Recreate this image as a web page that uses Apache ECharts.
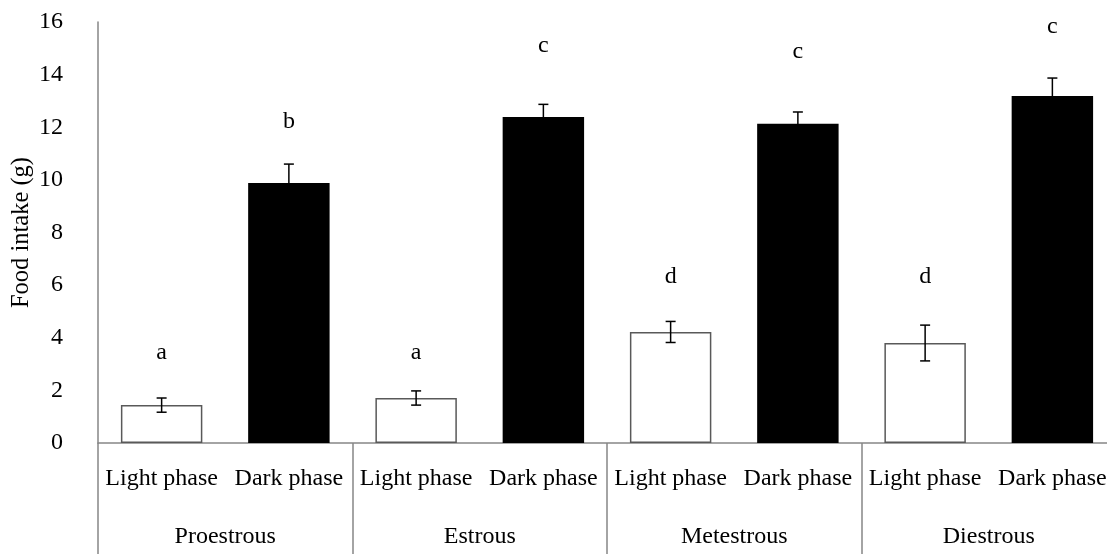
<!DOCTYPE html>
<html><head><meta charset="utf-8">
<script src="https://cdn.jsdelivr.net/npm/echarts@6/dist/echarts.min.js"></script>
<style>html,body{margin:0;padding:0;background:#fff}#c{width:1107px;height:554px}</style>
</head><body><div id="c"></div>
<script>
var categories = ['Light phase','Dark phase','Light phase','Dark phase','Light phase','Dark phase','Light phase','Dark phase'];
var groups = ['Proestrous','Estrous','Metestrous','Diestrous'];
var values = [1.44, 9.88, 1.71, 12.39, 4.22, 12.13, 3.80, 13.19];
var errors = [0.27, 0.72, 0.27, 0.48, 0.40, 0.45, 0.68, 0.68];
var letters = ['a','b','a','c','d','c','d','c'];
var letterHeights = [3.42, 12.2, 3.42, 15.1, 6.31, 14.87, 6.31, 15.82];
var yTicks = [0,2,4,6,8,10,12,14,16];

var FONT = 'Liberation Serif';
var chart = echarts.init(document.getElementById('c'));
var barData = values.map(function(v,i){
  var dark = i % 2 === 1;
  return {value: v, itemStyle: {color: dark ? '#000' : '#fff', borderColor: dark ? '#000' : '#595959', borderWidth: dark ? 0 : 1.5}};
});
chart.setOption({
  animation: false,
  grid: {left: 98, top: 22, bottom: 111, width: 1018, containLabel: false, outerBoundsMode: 'none'},
  xAxis: [{
    type: 'category', data: categories, position: 'bottom',
    axisLine: {lineStyle: {color: '#868686', width: 1.5}},
    axisTick: {show: true, length: 111, interval: function(i){ return i % 2 === 0; }, lineStyle: {color: '#868686', width: 1.5}},
    axisLabel: {margin: 24, fontFamily: FONT, fontSize: 24, color: '#000', interval: 0}
  },{
    type: 'category', data: groups, position: 'bottom',
    axisLine: {show: false}, axisTick: {show: false},
    axisLabel: {margin: 82, fontFamily: FONT, fontSize: 24, color: '#000', interval: 0}
  }],
  yAxis: {
    type: 'value', min: yTicks[0], max: yTicks[yTicks.length-1], interval: 2,
    name: 'Food intake (g)', nameLocation: 'middle', nameGap: 64, nameMoveOverlap: false,
    nameTextStyle: {fontFamily: FONT, fontSize: 24.5, color: '#000'},
    axisLine: {show: true, lineStyle: {color: '#868686', width: 1.5}},
    axisTick: {show: false}, splitLine: {show: false},
    axisLabel: {margin: 35, fontFamily: FONT, fontSize: 24, color: '#000'}
  },
  series: [{
    type: 'bar', data: barData, barWidth: '64%', xAxisIndex: 0
  },{
    type: 'custom', xAxisIndex: 0,
    data: values.map(function(v,i){ return [i, v, errors[i], letterHeights[i]]; }),
    renderItem: function(params, api){
      var x = api.coord([api.value(0), 0])[0];
      var hi = api.coord([api.value(0), api.value(1) + api.value(2)])[1];
      var lo = api.coord([api.value(0), api.value(1) - api.value(2)])[1];
      var ly = api.coord([api.value(0), api.value(3)])[1];
      var w = 5;
      var st = {stroke: '#000', lineWidth: 1.5};
      return {type: 'group', children: [
        {type: 'line', shape: {x1: x, y1: hi, x2: x, y2: lo}, style: st},
        {type: 'line', shape: {x1: x-w, y1: hi, x2: x+w, y2: hi}, style: st},
        {type: 'line', shape: {x1: x-w, y1: lo, x2: x+w, y2: lo}, style: st},
        {type: 'text', style: {text: letters[params.dataIndex], x: x, y: ly, align: 'center', verticalAlign: 'middle', font: '24px "Liberation Serif"', fill: '#000'}}
      ]};
    },
    z: 5
  }]
});
</script></body></html>
